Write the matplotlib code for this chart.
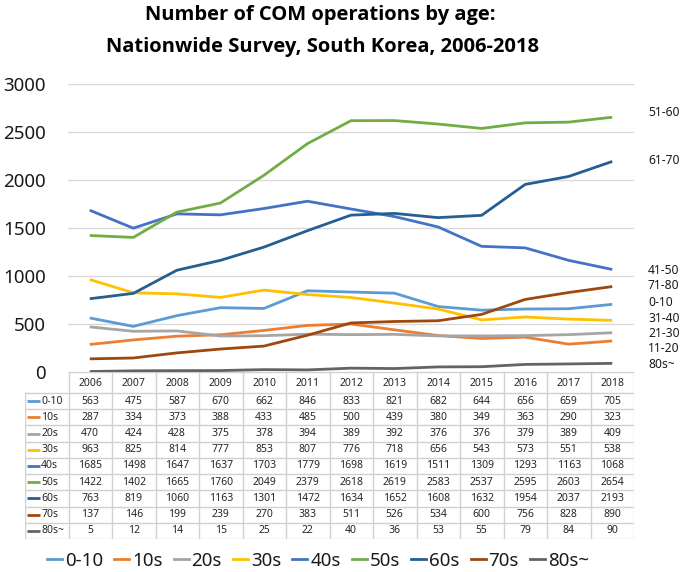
import matplotlib
matplotlib.use("Agg")
import matplotlib.pyplot as plt
from matplotlib.lines import Line2D

plt.rcParams['font.family'] = ['Noto Sans', 'DejaVu Sans']

years = [2006, 2007, 2008, 2009, 2010, 2011, 2012, 2013, 2014, 2015, 2016, 2017, 2018]
series_names = ["0-10", "10s", "20s", "30s", "40s", "50s", "60s", "70s", "80s~"]
v_0_10 = [563, 475, 587, 670, 662, 846, 833, 821, 682, 644, 656, 659, 705]
v_10s = [287, 334, 373, 388, 433, 485, 500, 439, 380, 349, 363, 290, 323]
v_20s = [470, 424, 428, 375, 378, 394, 389, 392, 376, 376, 379, 389, 409]
v_30s = [963, 825, 814, 777, 853, 807, 776, 718, 656, 543, 573, 551, 538]
v_40s = [1685, 1498, 1647, 1637, 1703, 1779, 1698, 1619, 1511, 1309, 1293, 1163, 1068]
v_50s = [1422, 1402, 1665, 1760, 2049, 2379, 2618, 2619, 2583, 2537, 2595, 2603, 2654]
v_60s = [763, 819, 1060, 1163, 1301, 1472, 1634, 1652, 1608, 1632, 1954, 2037, 2193]
v_70s = [137, 146, 199, 239, 270, 383, 511, 526, 534, 600, 756, 828, 890]
v_80s = [5, 12, 14, 15, 25, 22, 40, 36, 53, 55, 79, 84, 90]
series_values = [v_0_10, v_10s, v_20s, v_30s, v_40s, v_50s, v_60s, v_70s, v_80s]
colors = ["#5B9BD5", "#ED7D31", "#A5A5A5", "#FFC000", "#4472C4",
          "#70AD47", "#255E91", "#9E480E", "#636363"]

right_labels = ["51-60", "61-70", "41-50", "71-80", "0-10", "31-40", "21-30", "11-20", "80s~"]
right_label_y = [2708, 2198, 1062, 896, 729, 562, 406, 240, 73]

yticks = [0, 500, 1000, 1500, 2000, 2500, 3000]

W, H = 685, 572
fig = plt.figure(figsize=(W / 100, H / 100), dpi=100)

# main plot axes: x 68..634 px, y 84..372 px
ax = fig.add_axes([68 / W, 1 - 372 / H, (634 - 68) / W, (372 - 84) / H])
x = list(range(len(years)))
for vals, c in zip(series_values, colors):
    ax.plot(x, vals, color=c, lw=2.0, solid_capstyle='butt', zorder=3)
ax.set_xlim(-0.5, len(years) - 0.5)
ax.set_ylim(0, 3000)
ax.set_yticks(yticks)
ax.set_yticklabels([str(t) for t in yticks], fontsize=13.5, color="#1a1a1a")
ax.set_xticks([])
ax.tick_params(axis='y', length=0, pad=16)
for s in ax.spines.values():
    s.set_visible(False)
ax.grid(axis='y', color="#D9D9D9", lw=1.0, zorder=0)
for lab, yv in zip(right_labels, right_label_y):
    ax.text(1.0 + 14 / (634 - 68), yv, lab, transform=ax.get_yaxis_transform(),
            fontsize=8.7, color="#1a1a1a", va='center', ha='left', clip_on=False)

# title
tfont = dict(fontsize=14.5, fontweight='bold', color="#000000", family=['Open Sans', 'DejaVu Sans'])
fig.text(0.467, 1 - 15 / H, "Number of COM operations by age:", ha='center', va='center', **tfont)
fig.text(0.471, 1 - 47 / H, "Nationwide Survey, South Korea, 2006-2018", ha='center', va='center', **tfont)

# data table
tx0, tx1 = 25, 634
ty0, ty1 = 372, 539
tax = fig.add_axes([tx0 / W, 1 - ty1 / H, (tx1 - tx0) / W, (ty1 - ty0) / H])
tax.set_xlim(-1.5, len(years) - 0.5)
tax.set_ylim(ty1 - ty0, 0)
tax.axis('off')
hdr = 21
rh = (ty1 - ty0 - hdr) / len(series_names)
gc = "#D0D0D0"
tc = "#262626"
ncol = len(years)
tax.plot([-0.5, ncol - 0.5], [0, 0], color=gc, lw=1)
for r in range(len(series_names) + 1):
    yy = hdr + r * rh
    tax.plot([-1.5, ncol - 0.5], [yy, yy], color=gc, lw=1)
tax.plot([-1.5, -1.5], [hdr, ty1 - ty0], color=gc, lw=1)
for c in range(ncol + 1):
    xx = c - 0.5
    tax.plot([xx, xx], [0, ty1 - ty0], color=gc, lw=1)
for i, yv in enumerate(years):
    tax.text(i, hdr / 2 + 0.5, str(yv), ha='center', va='center', fontsize=7.5, color=tc)
for r, (name, vals, c) in enumerate(zip(series_names, series_values, colors)):
    yc = hdr + (r + 0.5) * rh
    tax.plot([-1.45, -1.15], [yc, yc], color=c, lw=2, solid_capstyle='butt')
    tax.text(-1.13, yc, name, ha='left', va='center', fontsize=7.5, color=tc)
    for i, v in enumerate(vals):
        tax.text(i, yc, str(v), ha='center', va='center', fontsize=7.5, color=tc)

# legend
handles = [Line2D([], [], color=c, lw=2) for c in colors]
fig.legend(handles, series_names, loc='center', bbox_to_anchor=(318 / W, 1 - 561 / H),
           ncol=9, frameon=False, fontsize=13.5, handlelength=0.8, handletextpad=0.15,
           columnspacing=0.6, borderaxespad=0, labelcolor="#1a1a1a")

fig.savefig("out.png", dpi=100)
